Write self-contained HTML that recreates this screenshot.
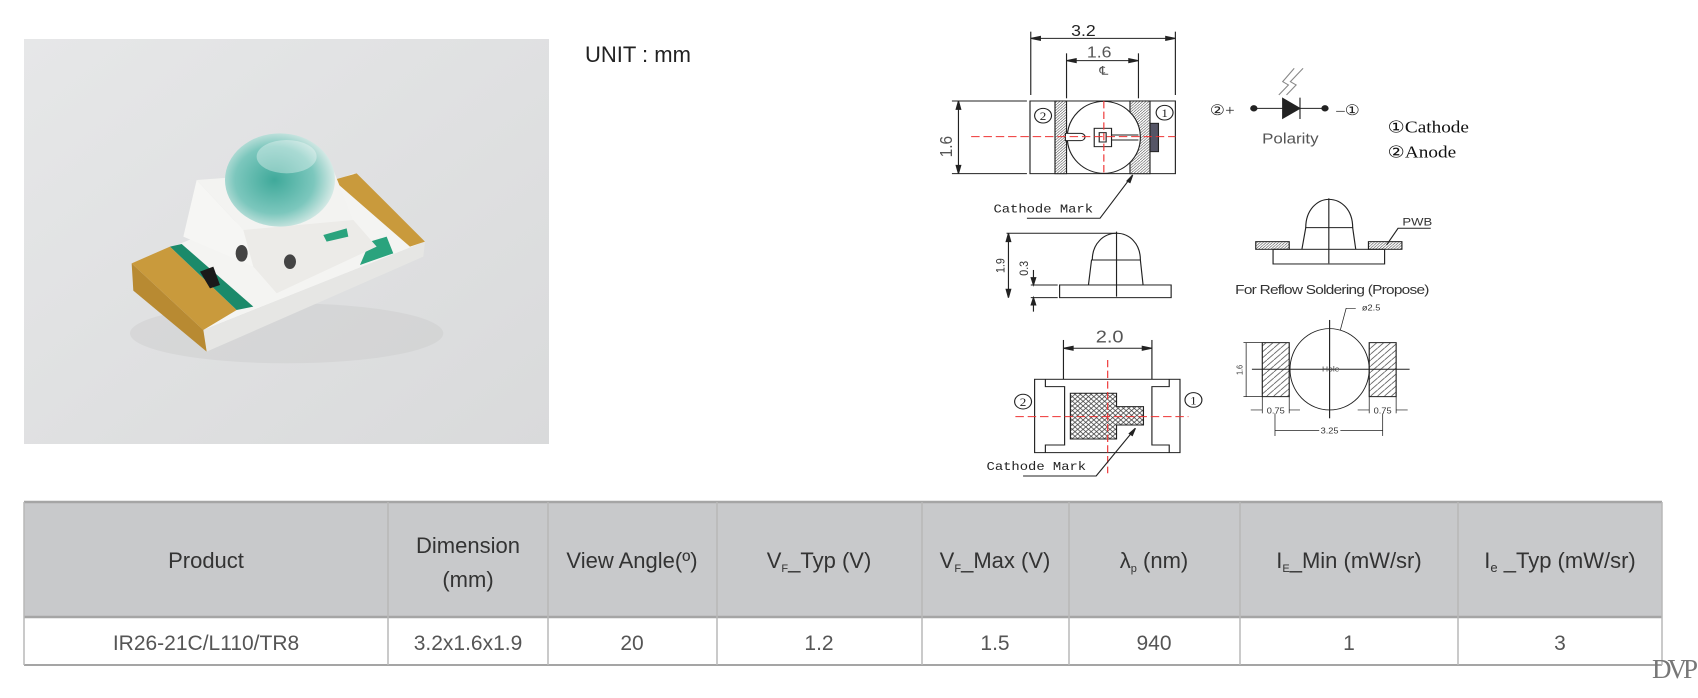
<!DOCTYPE html>
<html><head><meta charset="utf-8"><style>
html,body{margin:0;padding:0;background:#fff;width:1698px;height:698px;overflow:hidden}
svg{display:block}
.s{font-family:"Liberation Sans",sans-serif}
.m{font-family:"Liberation Mono",monospace}
.r{font-family:"Liberation Serif",serif}
</style></head><body>
<svg width="1698" height="698" viewBox="0 0 1698 698" xmlns="http://www.w3.org/2000/svg">
<defs>
<linearGradient id="bg" x1="0" y1="0" x2="1" y2="1"><stop offset="0" stop-color="#e6e7e8"/><stop offset="1" stop-color="#d9dadb"/></linearGradient>
<radialGradient id="dome" cx="0.45" cy="0.5" r="0.6"><stop offset="0" stop-color="#3fa99a"/><stop offset="0.6" stop-color="#7cc7bd"/><stop offset="1" stop-color="#eef3f1"/></radialGradient>
<pattern id="h1" width="8" height="8" patternUnits="userSpaceOnUse"><rect width="8" height="8" fill="#fff"/><path d="M0 8L8 0" stroke="#333" stroke-width="1.5"/></pattern>
<pattern id="h2" width="14" height="14" patternUnits="userSpaceOnUse"><rect width="14" height="14" fill="#fff"/><path d="M0 14L14 0M0 0L14 14" stroke="#333" stroke-width="2"/></pattern>
<pattern id="h3" width="18" height="18" patternUnits="userSpaceOnUse"><rect width="18" height="18" fill="#fff"/><path d="M0 18L18 0" stroke="#444" stroke-width="2"/></pattern>
</defs>

<!-- photo -->
<rect x="24" y="39" width="525" height="405" fill="url(#bg)"/>
<g transform="translate(100,80) scale(0.3333)">
  <ellipse cx="560" cy="760" rx="470" ry="90" fill="#c5c6c7" opacity="0.35"/>
  <polygon points="95,550 760,280 975,485 310,750" fill="#f4f4f2"/>
  <polygon points="310,750 975,485 970,530 320,815" fill="#e6e6e4"/>
  <polygon points="95,550 210,500 410,690 310,750" fill="#c99a3c"/>
  <polygon points="95,550 310,750 320,815 100,632" fill="#b88a32"/>
  <polygon points="210,500 245,492 460,680 410,690" fill="#1b8a6a"/>
  <polygon points="300,575 340,560 360,615 330,625" fill="#1a1a1a"/>
  <polygon points="700,300 770,280 975,485 930,500" fill="#c99a3c"/>
  <polygon points="810,485 860,470 880,520 780,555" fill="#2aa37d"/>
  <polygon points="290,300 700,270 760,420 430,450" fill="#f3f3f1"/>
  <polygon points="250,470 290,300 430,450 460,560" fill="#f6f6f4"/>
  <polygon points="430,450 760,420 830,500 530,640 460,560" fill="#ecebe8"/>
  <ellipse cx="425" cy="520" rx="18" ry="25" fill="#444"/>
  <ellipse cx="570" cy="545" rx="18" ry="22" fill="#444"/>
  <polygon points="670,465 740,445 745,470 680,485" fill="#2aa37d"/>
  <ellipse cx="540" cy="300" rx="165" ry="140" fill="url(#dome)"/>
  <ellipse cx="560" cy="230" rx="90" ry="50" fill="#fff" opacity="0.35"/>
</g>

<text x="585" y="62" class="s" font-size="22" fill="#222">UNIT : mm</text>

<!-- drawing -->
<g transform="translate(900,0) scale(0.3846,0.3333)" fill="none" stroke="#222" stroke-width="3">
  <line x1="340" y1="95" x2="340" y2="285"/><line x1="716" y1="95" x2="716" y2="285"/>
  <line x1="340" y1="115" x2="716" y2="115"/>
  <path d="M340 115l25-6v12zM716 115l-25-6v12z" fill="#222"/>
  <text x="477" y="108" class="s" font-size="46" fill="#222" stroke="none" text-anchor="middle">3.2</text>
  <line x1="433" y1="160" x2="433" y2="295"/><line x1="620" y1="160" x2="620" y2="295"/>
  <line x1="433" y1="182" x2="620" y2="182"/>
  <path d="M433 182l25-6v12zM620 182l-25-6v12z" fill="#222"/>
  <text x="518" y="172" class="s" font-size="46" fill="#555" stroke="none" text-anchor="middle">1.6</text>
  <text x="530" y="225" class="s" font-size="36" fill="#555" stroke="none" text-anchor="middle">℄</text>
  <line x1="135" y1="303" x2="330" y2="303"/><line x1="135" y1="521" x2="330" y2="521"/>
  <line x1="152" y1="303" x2="152" y2="521"/>
  <path d="M152 303l-6 25h12zM152 521l-6-25h12z" fill="#222"/>
  <text x="0" y="0" class="s" font-size="46" fill="#555" stroke="none" text-anchor="middle" transform="translate(135,440) rotate(-90)">1.6</text>
  <rect x="338" y="303" width="378" height="218"/>
  <rect x="403" y="303" width="30" height="218" fill="url(#h1)"/>
  <rect x="598" y="303" width="52" height="218" fill="url(#h1)"/>
  <rect x="650" y="370" width="22" height="85" fill="#556"/>
  <ellipse cx="530" cy="412" rx="95" ry="108" fill="#fff"/>
  <path d="M430 400h40a10 10 0 0 1 0 22h-40z" fill="#fff"/>
  <rect x="505" y="385" width="45" height="55" fill="#fff"/>
  <rect x="518" y="398" width="18" height="28"/>
  <line x1="550" y1="405" x2="620" y2="405"/><line x1="550" y1="420" x2="620" y2="420"/>
  <line x1="185" y1="410" x2="716" y2="410" stroke="#e33" stroke-dasharray="22,10"/>
  <line x1="530" y1="303" x2="530" y2="521" stroke="#e33" stroke-dasharray="22,10"/>
  <circle cx="372" cy="347" r="22"/><text x="372" y="360" class="r" font-size="34" fill="#222" stroke="none" text-anchor="middle">2</text>
  <circle cx="688" cy="338" r="22"/><text x="688" y="351" class="r" font-size="34" fill="#222" stroke="none" text-anchor="middle">1</text>
  <polyline points="605,525 520,655 330,655"/><path d="M605 525l-15 18 8 5z" fill="#222"/>
  <text x="243" y="637" class="m" font-size="36" fill="#222" stroke="none">Cathode Mark</text>

  <line x1="920" y1="325" x2="1105" y2="325"/>
  <circle cx="920" cy="325" r="8" fill="#222"/><circle cx="1105" cy="325" r="8" fill="#222"/>
  <polygon points="995,295 995,355 1040,325" fill="#222"/>
  <line x1="1040" y1="293" x2="1040" y2="357"/>
  <polyline points="985,285 1010,255 995,245 1025,205" stroke="#888"/>
  <polyline points="1005,285 1030,255 1015,245 1048,205" stroke="#888"/>
  <text x="838" y="345" class="r" font-size="44" fill="#222" stroke="none" text-anchor="middle">②+</text>
  <text x="1165" y="345" class="r" font-size="44" fill="#222" stroke="none" text-anchor="middle">–①</text>
  <text x="1015" y="430" class="s" font-size="44" fill="#555" stroke="none" text-anchor="middle">Polarity</text>
  <text x="1268" y="398" class="r" font-size="50" fill="#111" stroke="none">①Cathode</text>
  <text x="1268" y="473" class="r" font-size="50" fill="#111" stroke="none">②Anode</text>

  <line x1="277" y1="700" x2="565" y2="700"/>
  <line x1="282" y1="700" x2="282" y2="893"/>
  <path d="M282 700l-6 25h12zM282 893l-6-25h12z" fill="#222"/>
  <text class="s" font-size="32" fill="#333" stroke="none" text-anchor="middle" transform="translate(272,797) rotate(-90)">1.9</text>
  <line x1="340" y1="855" x2="410" y2="855"/><line x1="340" y1="893" x2="410" y2="893"/>
  <line x1="347" y1="810" x2="347" y2="855"/><line x1="347" y1="893" x2="347" y2="935"/>
  <path d="M347 855l-6-22h12zM347 893l-6 22h12z" fill="#222"/>
  <text class="s" font-size="32" fill="#333" stroke="none" text-anchor="middle" transform="translate(333,805) rotate(-90)">0.3</text>
  <rect x="415" y="855" width="290" height="38"/>
  <path d="M490 855L498 780H625L632 855"/>
  <path d="M500 780C500 730 530 700 563 700C596 700 625 730 625 780"/>
  <line x1="563" y1="695" x2="563" y2="890"/>

  <rect x="925" y="725" width="87" height="23" fill="url(#h1)"/>
  <rect x="1218" y="725" width="87" height="23" fill="url(#h1)"/>
  <rect x="970" y="748" width="290" height="44"/>
  <path d="M1045 748L1055 683H1177L1185 748"/>
  <path d="M1055 683C1055 630 1085 598 1115 598C1148 598 1177 630 1177 683"/>
  <line x1="1115" y1="595" x2="1115" y2="790"/>
  <polyline points="1265,735 1295,685 1380,685"/>
  <text x="1345" y="677" class="s" font-size="34" fill="#333" stroke="none" text-anchor="middle">PWB</text>
  <text x="1124" y="882" class="s" font-size="40" fill="#333" stroke="none" text-anchor="middle" textLength="505">For Reflow Soldering (Propose)</text>

  <line x1="425" y1="1020" x2="425" y2="1138"/><line x1="655" y1="1020" x2="655" y2="1138"/>
  <line x1="425" y1="1045" x2="655" y2="1045"/>
  <path d="M425 1045l25-6v12zM655 1045l-25-6v12z" fill="#222"/>
  <text x="545" y="1028" class="s" font-size="52" fill="#555" stroke="none" text-anchor="middle">2.0</text>
  <rect x="350" y="1138" width="378" height="220"/>
  <path d="M378 1138v22h50v175h-50v23M700 1138v22h-45v175h45v23"/>
  <path d="M443 1180h120v40h70v55h-70v42h-120z" fill="url(#h2)"/>
  <line x1="540" y1="1080" x2="540" y2="1420" stroke="#e33" stroke-dasharray="22,10"/>
  <line x1="300" y1="1250" x2="750" y2="1250" stroke="#e33" stroke-dasharray="22,10"/>
  <circle cx="320" cy="1205" r="22"/><text x="320" y="1218" class="r" font-size="34" fill="#222" stroke="none" text-anchor="middle">2</text>
  <circle cx="763" cy="1200" r="22"/><text x="763" y="1213" class="r" font-size="34" fill="#222" stroke="none" text-anchor="middle">1</text>
  <polyline points="612,1285 510,1428 320,1428"/><path d="M612 1285l-16 16 8 6z" fill="#222"/>
  <text x="225" y="1410" class="m" font-size="36" fill="#222" stroke="none">Cathode Mark</text>

  <rect x="942" y="1028" width="70" height="162" fill="url(#h3)"/>
  <rect x="1220" y="1028" width="70" height="162" fill="url(#h3)"/>
  <ellipse cx="1117" cy="1108" rx="103" ry="122" stroke-width="2.5"/>
  <line x1="915" y1="1108" x2="1325" y2="1108"/>
  <line x1="1117" y1="960" x2="1117" y2="1255"/>
  <text x="1120" y="1115" class="s" font-size="22" fill="#444" stroke="none" text-anchor="middle">Hole</text>
  <line x1="893" y1="1028" x2="942" y2="1028" stroke-width="2"/><line x1="893" y1="1190" x2="942" y2="1190" stroke-width="2"/>
  <line x1="900" y1="1028" x2="900" y2="1190" stroke-width="2"/>
  <text class="s" font-size="22" fill="#333" stroke="none" text-anchor="middle" transform="translate(890,1110) rotate(-90)">1.6</text>
  <line x1="942" y1="1190" x2="942" y2="1240" stroke-width="2"/><line x1="1012" y1="1190" x2="1012" y2="1240" stroke-width="2"/>
  <line x1="1220" y1="1190" x2="1220" y2="1240" stroke-width="2"/><line x1="1290" y1="1190" x2="1290" y2="1240" stroke-width="2"/>
  <line x1="912" y1="1230" x2="942" y2="1230" stroke-width="2"/><line x1="1012" y1="1230" x2="1040" y2="1230" stroke-width="2"/>
  <line x1="1190" y1="1230" x2="1220" y2="1230" stroke-width="2"/><line x1="1290" y1="1230" x2="1320" y2="1230" stroke-width="2"/>
  <text x="977" y="1240" class="s" font-size="24" fill="#333" stroke="none" text-anchor="middle">0.75</text>
  <text x="1255" y="1240" class="s" font-size="24" fill="#333" stroke="none" text-anchor="middle">0.75</text>
  <line x1="975" y1="1240" x2="975" y2="1308" stroke-width="2"/><line x1="1255" y1="1240" x2="1255" y2="1308" stroke-width="2"/>
  <line x1="975" y1="1292" x2="1090" y2="1292" stroke-width="2"/><line x1="1145" y1="1292" x2="1255" y2="1292" stroke-width="2"/>
  <text x="1117" y="1300" class="s" font-size="24" fill="#333" stroke="none" text-anchor="middle">3.25</text>
  <polyline points="1145,990 1160,925 1185,925" stroke-width="2"/>
  <text x="1225" y="932" class="s" font-size="24" fill="#333" stroke="none" text-anchor="middle">ø2.5</text>
</g>

<rect x="24" y="502" width="1638" height="115" fill="#c8c9cb"/>
<rect x="24" y="617" width="1638" height="48" fill="#fff"/>
<g stroke="#b8b8b8" stroke-width="1.5">
<line x1="24" y1="502" x2="1662" y2="502" stroke="#a5a5a5" stroke-width="2.5"/>
<line x1="24" y1="617" x2="1662" y2="617" stroke="#a5a5a5" stroke-width="2.5"/>
<line x1="24" y1="665" x2="1662" y2="665" stroke="#a5a5a5" stroke-width="2"/>
<line x1="24" y1="502" x2="24" y2="665"/><line x1="388" y1="502" x2="388" y2="665"/>
<line x1="548" y1="502" x2="548" y2="665"/><line x1="717" y1="502" x2="717" y2="665"/>
<line x1="922" y1="502" x2="922" y2="665"/><line x1="1069" y1="502" x2="1069" y2="665"/>
<line x1="1240" y1="502" x2="1240" y2="665"/><line x1="1458" y1="502" x2="1458" y2="665"/>
<line x1="1662" y1="502" x2="1662" y2="665"/>
</g>
<g class="s" font-size="22" fill="#333" text-anchor="middle">
<text x="206" y="568">Product</text>
<text x="468" y="553">Dimension</text><text x="468" y="587">(mm)</text>
<text x="632" y="568">View Angle(º)</text>
<text x="819" y="568">V<tspan font-size="11" dy="4">F</tspan><tspan dy="-4">_Typ (V)</tspan></text>
<text x="995" y="568">V<tspan font-size="11" dy="4">F</tspan><tspan dy="-4">_Max (V)</tspan></text>
<text x="1154" y="568">λ<tspan font-size="11" dy="4">p</tspan><tspan dy="-4"> (nm)</tspan></text>
<text x="1349" y="568">I<tspan font-size="11" dy="4">E</tspan><tspan dy="-4">_Min (mW/sr)</tspan></text>
<text x="1560" y="568">I<tspan font-size="13" dy="4">e</tspan><tspan dy="-4"> _Typ (mW/sr)</tspan></text>
</g>
<g class="s" font-size="21" fill="#555" text-anchor="middle">
<text x="206" y="650">IR26-21C/L110/TR8</text>
<text x="468" y="650">3.2x1.6x1.9</text>
<text x="632" y="650">20</text>
<text x="819" y="650">1.2</text>
<text x="995" y="650">1.5</text>
<text x="1154" y="650">940</text>
<text x="1349" y="650">1</text>
<text x="1560" y="650">3</text>
</g>
<text x="1652" y="678" class="r" font-size="27" fill="#777" textLength="46">DVP</text>
</svg>
</body></html>
